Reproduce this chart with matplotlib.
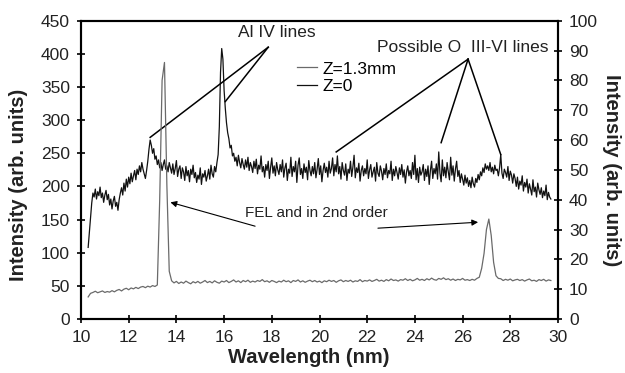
import numpy as np
import matplotlib.pyplot as plt

plt.rcParams["font.family"] = ["Liberation Sans", "DejaVu Sans"]

# Z=0 spectrum, left axis, sampled every 0.05 nm from 10.30 nm
wl_z0 = np.round(np.arange(10.30, 29.701, 0.05), 2)
int_z0 = [
    108, 130, 152, 175, 190, 184, 196, 181, 192, 186,
    199, 183, 190, 176, 187, 194, 180, 188, 172, 181,
    166, 178, 185, 170, 176, 164, 180, 190, 198, 187,
    205, 193, 211, 199, 214, 204, 220, 207, 216, 224,
    210, 226, 218, 231, 222, 236, 226, 219, 212, 224,
    238, 256, 270, 262, 250, 257, 241, 246, 233, 240,
    228, 236, 224, 233, 240, 226, 231, 222, 236, 228,
    220, 234, 218, 227, 239, 215, 226, 231, 212, 228,
    222, 209, 230, 216, 224, 207, 226, 218, 232, 213,
    221, 206, 217, 211, 228, 203, 219, 214, 224, 208,
    216, 226, 211, 232, 219, 214, 230, 222, 236, 248,
    290, 372, 408, 392, 345, 318, 296, 281, 272, 258,
    262, 246, 250, 238, 244, 231, 247, 236, 228, 242,
    233, 226, 240, 229, 244, 224, 236, 230, 221, 238,
    227, 241, 219, 232, 226, 246, 222, 230, 214, 233,
    224, 238, 212, 229, 243, 220, 231, 216, 236, 225,
    218, 233, 222, 240, 214, 228, 235, 209, 226, 220,
    244, 215, 230, 222, 238, 206, 232, 243, 218, 227,
    212, 234, 221, 229, 210, 239, 224, 216, 230, 219,
    236, 213, 226, 242, 218, 231, 207, 224, 235, 221,
    229, 214, 238, 220, 227, 243, 216, 233, 222, 246,
    219, 230, 211, 236, 224, 217, 234, 209, 226, 220,
    238, 215, 229, 247, 213, 228, 221, 235, 208, 224,
    231, 216, 227, 219, 240, 212, 225, 233, 214, 222,
    229, 208, 236, 220, 215, 231, 223, 210, 227, 218,
    234, 213, 224, 219, 238, 209, 226, 216, 230, 221,
    211, 228, 218, 233, 214, 225, 205, 222, 231, 216,
    224, 212, 236, 218, 247, 210, 227, 206, 229, 217,
    222, 233, 209, 226, 215, 231, 203, 224, 238, 212,
    227, 219, 234, 211, 252, 220, 207, 240, 216, 229,
    213, 236, 222, 210, 244, 217, 231, 208, 226, 238,
    215, 224, 206, 219, 211, 202, 217, 205, 213, 200,
    209, 198, 214, 204, 199, 212, 206, 218, 210, 222,
    216, 228, 221, 234, 226, 231, 224, 236, 222, 229,
    219, 232, 224, 226, 216, 228, 248, 220, 212, 226,
    221, 214, 230, 209, 223, 217, 205, 219, 212, 200,
    214, 196, 208, 202, 216, 193, 206, 199, 211, 190,
    204, 196, 187, 210, 192, 199, 184, 205, 195, 188,
    198, 183, 193, 186, 202, 180, 191, 184, 181,
]

# Z=1.3mm spectrum, right axis, sampled every 0.1 nm from 10.3 nm
wl_z13 = np.round(np.arange(10.3, 29.701, 0.1), 1)
int_z13 = [
    7.4, 8.6, 8.9, 9.3, 8.8, 9.1, 9.4, 8.9, 9.2, 9.0,
    9.5, 9.1, 9.6, 9.9, 9.4, 10.0, 10.3, 9.8, 10.4, 10.1,
    10.6, 10.2, 10.7, 10.9, 10.5, 11.0, 10.7, 11.2, 10.9, 11.4,
    40.0, 80.0, 86.0, 45.0, 16.0, 12.8, 12.1, 12.6, 11.9, 12.4,
    12.0, 12.7, 12.2, 11.8, 12.5, 12.1, 12.6, 12.0, 12.4, 12.9,
    12.2, 12.6, 12.1, 12.8, 12.3, 12.0, 12.7, 12.4, 12.9, 12.2,
    12.6, 13.1, 12.4, 12.8, 12.2, 12.9, 12.5, 13.0, 12.3, 12.7,
    12.4, 12.9, 12.6, 13.2, 12.5, 12.8, 12.3, 12.9, 12.6, 12.2,
    12.7, 12.4, 13.0, 12.5, 12.8, 12.2, 12.9, 12.6, 13.1, 12.4,
    12.8, 12.3, 12.7, 13.0, 12.5, 12.9, 12.4, 12.7, 12.2, 12.8,
    12.5, 13.0, 12.6, 12.9, 12.3, 12.8, 13.1, 12.5, 12.9, 12.6,
    13.0, 12.4, 12.8, 12.6, 13.2, 12.5, 12.9, 12.7, 13.1, 12.6,
    12.9, 13.3, 12.7, 13.0, 12.6, 13.2, 12.8, 13.4, 12.9, 13.1,
    12.7, 13.2, 13.0, 13.5, 12.9, 13.3, 12.8, 13.1, 13.6, 13.0,
    13.3, 12.9, 13.5, 13.1, 13.7, 13.2, 13.0, 13.6, 13.3, 13.8,
    13.2, 13.5, 13.0, 13.4, 12.9, 13.3, 13.1, 13.6, 13.0, 13.2,
    12.9, 13.3, 13.0, 13.6, 14.0, 17.0, 22.0, 30.0, 33.5, 28.0,
    19.0, 14.5, 13.6, 13.5, 12.9, 13.3, 13.0, 13.4, 12.8, 13.1,
    13.3, 12.9, 13.2, 12.7, 13.1, 13.4, 12.8, 13.0, 12.6, 13.2,
    12.9, 13.3, 12.7, 13.1, 12.9,
]

left_ticks = list(range(0, 451, 50))
right_ticks = list(range(0, 101, 10))
x_ticks = list(range(10, 31, 2))

fig = plt.figure(figsize=(6.25, 3.73), dpi=100)
ax = fig.add_axes([0.1296, 0.1448, 0.7632, 0.7997])
ax2 = ax.twinx()

line_z0, = ax.plot(wl_z0, int_z0, color="#111111", lw=0.9)
line_z13, = ax2.plot(wl_z13, int_z13, color="#6a6a6a", lw=0.9)

ax.set_xlim(10, 30)
ax.set_ylim(0, 450)
ax2.set_ylim(0, 100)
ax.set_xticks(x_ticks)
ax.set_yticks(left_ticks)
ax2.set_yticks(right_ticks)

for a in (ax, ax2):
    for sp in a.spines.values():
        sp.set_linewidth(1.5)
    a.tick_params(direction="inout", length=6, width=1.2,
                  labelsize=12.5, pad=5, labelcolor="#222222")

label_font = dict(fontsize=14.5, fontweight="bold", color="#222222")
ax.set_xlabel("Wavelength (nm)", **label_font)
ax.set_ylabel("Intensity (arb. units)", **label_font)
ax2.set_ylabel("Intensity (arb. units)", rotation=270, va="center",
               **label_font)
ax.xaxis.set_label_coords(0.478, -0.098)
ax.yaxis.set_label_coords(-0.112, 0.45)
ax2.yaxis.set_label_coords(1.112, 0.5)

ax2.legend([line_z13, line_z0], ["Z=1.3mm", "Z=0"],
           loc="upper left", bbox_to_anchor=(0.438, 0.887),
           frameon=False, fontsize=12.5, handlelength=1.15,
           handletextpad=0.3, labelspacing=0.15, borderaxespad=0)

text_font = dict(fontsize=12.5, color="#222222", ha="center", va="center")

# Al IV line markers
ax.text(18.2, 432, "Al IV lines", **text_font)
for tx, ty in [(12.9, 274), (16.05, 328)]:
    ax.plot([17.85, tx], [410, ty], color="black", lw=1.1)

# Possible O III-VI line markers
ax.text(26.0, 409, "Possible O  III-VI lines", **text_font)
for tx, ty in [(20.7, 252), (25.1, 266), (27.6, 248)]:
    ax.plot([26.23, tx], [392, ty], color="black", lw=1.1)

# FEL arrows
ax.text(19.85, 160, "FEL and in 2nd order", fontsize=11,
        color="#222222", ha="center", va="center")
arrow = dict(arrowstyle="-|>", color="black", lw=0.8,
             mutation_scale=9, shrinkA=0, shrinkB=0)
ax.annotate("", xy=(13.75, 176), xytext=(17.3, 140), arrowprops=arrow)
ax.annotate("", xy=(26.65, 146), xytext=(22.45, 137), arrowprops=arrow)

fig.savefig("out.png", dpi=100)
